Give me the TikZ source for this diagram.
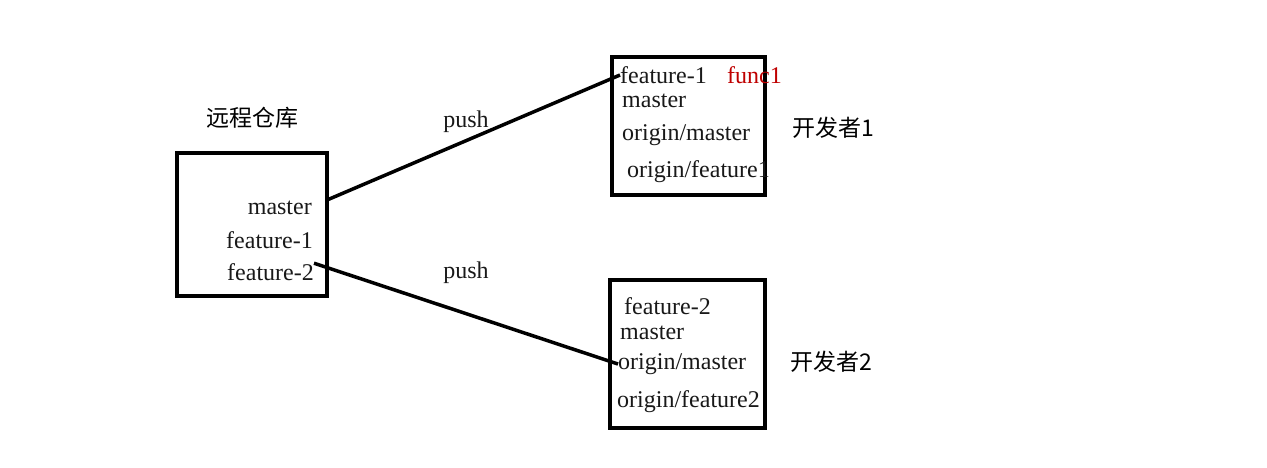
\documentclass[tikz,border=0pt]{standalone}
\usepackage{fontspec}
\setmainfont{Liberation Serif}
\newfontfamily\cjk{Noto Sans CJK SC}
\begin{document}
\begin{tikzpicture}[x=1pt,y=-1pt,
  box/.style={draw=black,line width=4pt},
  lbl/.style={font=\fontsize{24}{26}\selectfont,inner sep=0pt,text=black!90},
  cjklbl/.style={font=\cjk\fontsize{23}{25}\selectfont,inner sep=0pt},
  link/.style={line width=3.5pt}]
\useasboundingbox[fill=white] (0,0) rectangle (1267,467);
% boxes
\draw[box] (177,153) rectangle (327,296);
\draw[box] (612,57) rectangle (765,195);
\draw[box] (610,280) rectangle (765,428);
% remote
\node[cjklbl] (remote) at (252,118) {远程仓库};
\node[lbl,anchor=east] (rm) at (312,208) {master};
\node[lbl,anchor=east] (rf1) at (313,240) {feature-1};
\node[lbl,anchor=east] (rf2) at (314,272) {feature-2};
% dev1
\node[lbl,anchor=west] (d1f) at (620,75) {feature-1};
\node[lbl,anchor=west,text=red!75!black] (func) at (727,75) {func1};
\node[lbl,anchor=west] (d1m) at (622,101) {master};
\node[lbl,anchor=west] (d1om) at (622,135) {origin/master};
\node[lbl,anchor=west] (d1of) at (627,172) {origin/feature1};
\node[cjklbl,anchor=west] (dev1) at (792,128) {开发者1};
% dev2
\node[lbl,anchor=west] (d2f) at (624,306) {feature-2};
\node[lbl,anchor=west] (d2m) at (620,333) {master};
\node[lbl,anchor=west] (d2om) at (618,364) {origin/master};
\node[lbl,anchor=west] (d2of) at (617,402) {origin/feature2};
\node[cjklbl,anchor=west] (dev2) at (790,362) {开发者2};
% push labels
\node[lbl] (p1) at (466,122) {push};
\node[lbl] (p2) at (466,273) {push};
% links
\coordinate (a1) at (327,200);
\coordinate (b1) at (d1f.west);
\coordinate (a2) at (rf2.north east);
\coordinate (b2) at (d2om.west);
\draw[link] (a1) -- (b1);
\draw[link] (a2) -- (b2);
\end{tikzpicture}
\end{document}
